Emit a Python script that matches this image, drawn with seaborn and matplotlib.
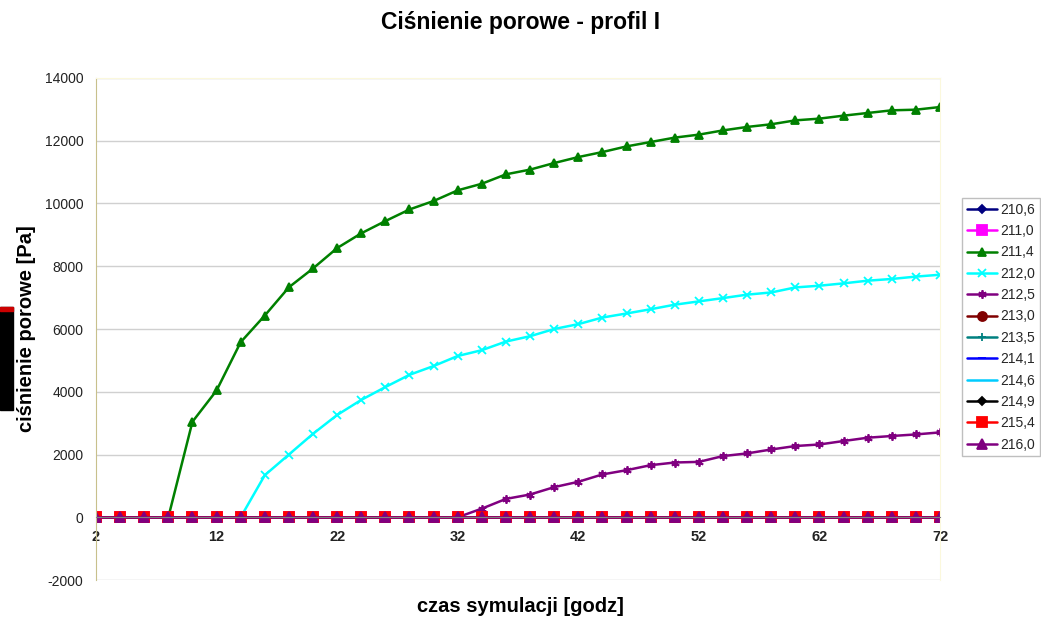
import numpy as np
import pandas as pd
import matplotlib
matplotlib.use("Agg")
import matplotlib.pyplot as plt
import seaborn as sns
from matplotlib.patches import Rectangle

# czas symulacji [godz]
czas = list(range(2, 73, 2))

# wartosci [Pa]
s_211_4 = [0, 0, 0, 0, 3045, 4040, 5580, 6430, 7330, 7930, 8580, 9050,
           9440, 9810, 10080, 10420, 10630, 10930, 11080, 11290, 11480, 11640,
           11820, 11960, 12100, 12195, 12330, 12440, 12525, 12650, 12705, 12800,
           12885, 12970, 12990, 13075]
s_212_0 = [0, 0, 0, 0, 0, 0, 0, 1340, 2000, 2660, 3260, 3740,
           4150, 4540, 4820, 5140, 5325, 5600, 5770, 6000, 6155, 6365,
           6495, 6630, 6775, 6880, 6985, 7095, 7165, 7325, 7380, 7455,
           7540, 7595, 7670, 7730]
s_212_5 = [0, 0, 0, 0, 0, 0, 0, 0, 0, 0, 0, 0,
           0, 0, 0, 0, 275, 585, 725, 960, 1130, 1365,
           1500, 1660, 1745, 1765, 1950, 2035, 2160, 2270, 2320, 2430,
           2535, 2590, 2640, 2705]
zero = [0] * len(czas)

serie = ["210,6", "211,0", "211,4", "212,0", "212,5", "213,0",
         "213,5", "214,1", "214,6", "214,9", "215,4", "216,0"]
wartosci = [zero, zero, s_211_4, s_212_0, s_212_5, zero,
            zero, zero, zero, zero, zero, zero]
kolory = ["#000080", "#FF00FF", "#008000", "#00FFFF", "#800080", "#800000",
          "#008080", "#0000FF", "#00CCFF", "#000000", "#FF0000", "#800080"]
markery = ["D", "s", "^", "x", (6, 2, 0), "o", "+", "_", "", "D", "s", "^"]
rozmiary = [4, 6.5, 6, 6, 6, 6.5, 6, 6, 6, 4, 6.5, 6.5]

sns.set_style("white")
plt.rcParams["font.family"] = ["Liberation Sans", "DejaVu Sans"]
plt.rcParams["axes.unicode_minus"] = False

fig = plt.figure(figsize=(10.41, 6.2), dpi=100)
ax = fig.add_axes([0.0922, 0.0645, 0.8108, 0.8097])

for nazwa, y, kol, mk, ms in zip(serie, wartosci, kolory, markery, rozmiary):
    df = pd.DataFrame({"czas": czas, "p": y})
    sns.lineplot(data=df, x="czas", y="p", ax=ax, color=kol, marker=mk,
                 markersize=ms, markeredgecolor=kol, markeredgewidth=1.3,
                 linewidth=1.8, label=nazwa, legend=False)

ax.set_xlim(2, 72)
ax.set_ylim(-2000, 14000)
ax.set_yticks(np.arange(-2000, 14001, 2000))
ax.set_xticks(np.arange(2, 73, 10))
ax.grid(axis="y", color="#d0d0d0", linewidth=1)
ax.set_axisbelow(True)

ax.spines["bottom"].set_position(("data", 0))
ax.spines["bottom"].set_color("#808080")
ax.spines["left"].set_color("#c8c08c")
ax.spines["top"].set_color("#fbf8dc")
ax.spines["right"].set_color("#fbf8dc")
ax.tick_params(axis="y", direction="out", length=7, color="#b0b0b0",
               labelsize=10, labelcolor="#222222", pad=2)
ax.tick_params(axis="x", length=0, labelsize=10.5, labelcolor="#222222", pad=9)
for lab in ax.get_xticklabels():
    lab.set_fontweight("bold")
ax.set_xlabel("")
ax.set_ylabel("")

fig.text(0.5, 0.963, "Ciśnienie porowe - profil I", ha="center", va="center",
         fontsize=16.5, fontweight="bold", color="black")
fig.text(0.5, 0.021, "czas symulacji [godz]", ha="center", va="center",
         fontsize=14.5, fontweight="bold", color="black")
fig.text(0.025, 0.47, "ciśnienie porowe [Pa]", ha="center", va="center",
         rotation=90, fontsize=14.5, fontweight="bold", color="black")

handles, labels = ax.get_legend_handles_labels()
leg = fig.legend(handles, labels, loc="upper left", bbox_to_anchor=(0.924, 0.681),
                 fontsize=10, labelspacing=0.53, handlelength=2.2,
                 handletextpad=0.2, borderpad=0.35, borderaxespad=0,
                 frameon=True, fancybox=False)
leg.get_frame().set_edgecolor("#b0b0b0")
leg.get_frame().set_linewidth(1)

# czarny pasek na lewej krawedzi
fig.patches.append(Rectangle((0, 0.339), 0.0125, 0.166, transform=fig.transFigure,
                             color="black", zorder=5))
fig.patches.append(Rectangle((0, 0.499), 0.0125, 0.006, transform=fig.transFigure,
                             color="#cc0000", zorder=6))

fig.savefig("out.png", dpi=100)
